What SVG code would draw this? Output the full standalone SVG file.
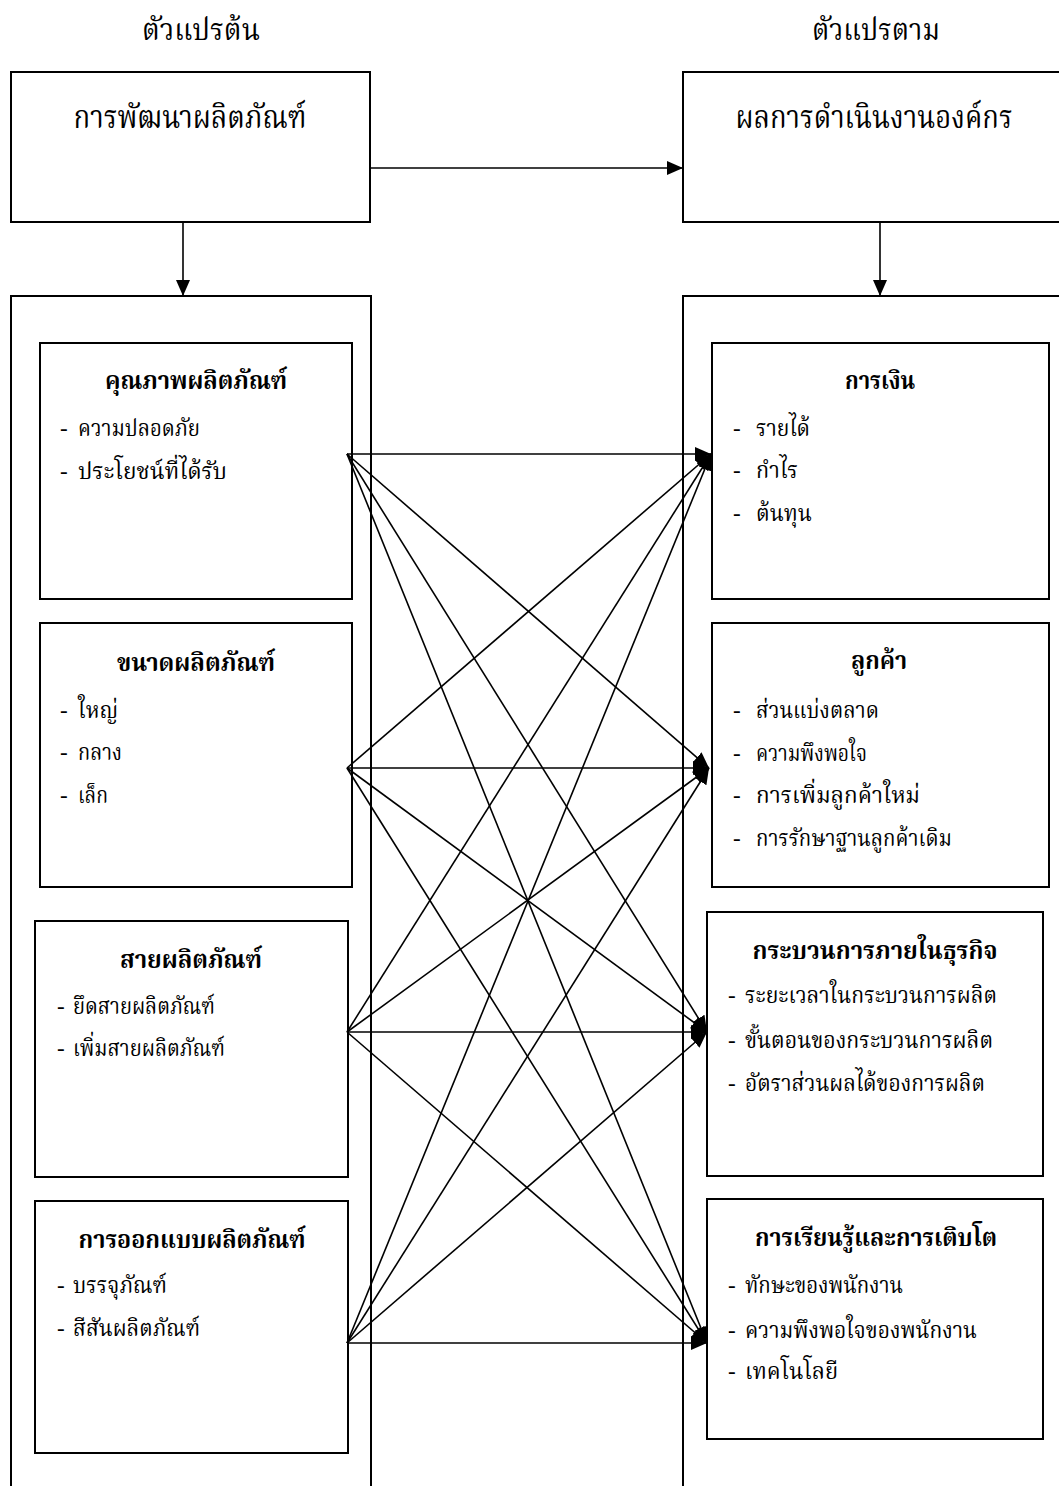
<svg xmlns="http://www.w3.org/2000/svg" width="1059" height="1486" viewBox="0 0 1059 1486">
<style>
text{font-family:"Liberation Serif","Noto Serif Thai","Noto Sans Thai",serif;fill:#000}
.hd{font-size:30px}
.tp{font-size:32px}
.ti{font-size:25px;font-weight:bold}
.it{font-size:23px}
.box{fill:#fff;stroke:#000;stroke-width:2}
.cont{fill:none;stroke:#000;stroke-width:2}
.ln{stroke:#000;stroke-width:1.6;fill:none}
</style>
<defs>
<marker id="ah" markerUnits="userSpaceOnUse" markerWidth="18" markerHeight="14" refX="16" refY="7" orient="auto">
<path d="M0,0 L16,7 L0,14 Z" fill="#000"/>
</marker>
</defs>
<g id="headers">
<text class="hd" x="201" y="40" text-anchor="middle" textLength="118" lengthAdjust="spacingAndGlyphs">ตัวแปรต้น</text>
<text class="hd" x="876" y="40" text-anchor="middle" textLength="128" lengthAdjust="spacingAndGlyphs">ตัวแปรตาม</text>
</g>
<g id="n_iv">
<rect class="box" x="11" y="72" width="359" height="150"/>
<text class="tp" x="190" y="128" text-anchor="middle" textLength="233" lengthAdjust="spacingAndGlyphs">การพัฒนาผลิตภัณฑ์</text>
</g>
<g id="n_dv">
<rect class="box" x="683" y="72" width="400" height="150"/>
<text class="tp" x="874" y="128" text-anchor="middle" textLength="277" lengthAdjust="spacingAndGlyphs">ผลการดำเนินงานองค์กร</text>
</g>
<g id="c_left">
<rect class="cont" x="11" y="296" width="360" height="1220"/>
</g>
<g id="c_right">
<rect class="cont" x="683" y="296" width="400" height="1220"/>
</g>
<g id="n_quality">
<rect class="box" x="40" y="343" width="312" height="256"/>
<text class="ti" x="196" y="389" text-anchor="middle" textLength="182" lengthAdjust="spacingAndGlyphs">คุณภาพผลิตภัณฑ์</text>
<text class="it" x="60" y="436">-</text><text class="it" x="78" y="436" textLength="122" lengthAdjust="spacingAndGlyphs">ความปลอดภัย</text>
<text class="it" x="60" y="479">-</text><text class="it" x="78" y="479" textLength="149" lengthAdjust="spacingAndGlyphs">ประโยชน์ที่ได้รับ</text>
</g>
<g id="n_size">
<rect class="box" x="40" y="623" width="312" height="264"/>
<text class="ti" x="196" y="671" text-anchor="middle" textLength="158" lengthAdjust="spacingAndGlyphs">ขนาดผลิตภัณฑ์</text>
<text class="it" x="60" y="718">-</text><text class="it" x="78" y="718" textLength="40" lengthAdjust="spacingAndGlyphs">ใหญ่</text>
<text class="it" x="60" y="760">-</text><text class="it" x="78" y="760" textLength="44" lengthAdjust="spacingAndGlyphs">กลาง</text>
<text class="it" x="60" y="803">-</text><text class="it" x="78" y="803" textLength="30" lengthAdjust="spacingAndGlyphs">เล็ก</text>
</g>
<g id="n_line">
<rect class="box" x="35" y="921" width="313" height="256"/>
<text class="ti" x="191" y="968" text-anchor="middle" textLength="142" lengthAdjust="spacingAndGlyphs">สายผลิตภัณฑ์</text>
<text class="it" x="57" y="1014">-</text><text class="it" x="73" y="1014" textLength="142" lengthAdjust="spacingAndGlyphs">ยึดสายผลิตภัณฑ์</text>
<text class="it" x="57" y="1056">-</text><text class="it" x="73" y="1056" textLength="152" lengthAdjust="spacingAndGlyphs">เพิ่มสายผลิตภัณฑ์</text>
</g>
<g id="n_design">
<rect class="box" x="35" y="1201" width="313" height="252"/>
<text class="ti" x="192" y="1248" text-anchor="middle" textLength="227" lengthAdjust="spacingAndGlyphs">การออกแบบผลิตภัณฑ์</text>
<text class="it" x="57" y="1293">-</text><text class="it" x="73" y="1293" textLength="94" lengthAdjust="spacingAndGlyphs">บรรจุภัณฑ์</text>
<text class="it" x="57" y="1336">-</text><text class="it" x="73" y="1336" textLength="127" lengthAdjust="spacingAndGlyphs">สีสันผลิตภัณฑ์</text>
</g>
<g id="n_finance">
<rect class="box" x="712" y="343" width="337" height="256"/>
<text class="ti" x="880" y="389" text-anchor="middle" textLength="70" lengthAdjust="spacingAndGlyphs">การเงิน</text>
<text class="it" x="733" y="436">-</text><text class="it" x="756" y="436" textLength="54" lengthAdjust="spacingAndGlyphs">รายได้</text>
<text class="it" x="733" y="478">-</text><text class="it" x="756" y="478" textLength="42" lengthAdjust="spacingAndGlyphs">กำไร</text>
<text class="it" x="733" y="521">-</text><text class="it" x="756" y="521" textLength="56" lengthAdjust="spacingAndGlyphs">ต้นทุน</text>
</g>
<g id="n_customer">
<rect class="box" x="712" y="623" width="337" height="264"/>
<text class="ti" x="879" y="669" text-anchor="middle" textLength="56" lengthAdjust="spacingAndGlyphs">ลูกค้า</text>
<text class="it" x="733" y="718">-</text><text class="it" x="756" y="718" textLength="123" lengthAdjust="spacingAndGlyphs">ส่วนแบ่งตลาด</text>
<text class="it" x="733" y="761">-</text><text class="it" x="756" y="761" textLength="111" lengthAdjust="spacingAndGlyphs">ความพึงพอใจ</text>
<text class="it" x="733" y="803">-</text><text class="it" x="756" y="803" textLength="164" lengthAdjust="spacingAndGlyphs">การเพิ่มลูกค้าใหม่</text>
<text class="it" x="733" y="846">-</text><text class="it" x="756" y="846" textLength="196" lengthAdjust="spacingAndGlyphs">การรักษาฐานลูกค้าเดิม</text>
</g>
<g id="n_process">
<rect class="box" x="707" y="912" width="336" height="264"/>
<text class="ti" x="875" y="959" text-anchor="middle" textLength="245" lengthAdjust="spacingAndGlyphs">กระบวนการภายในธุรกิจ</text>
<text class="it" x="728" y="1003">-</text><text class="it" x="745" y="1003" textLength="252" lengthAdjust="spacingAndGlyphs">ระยะเวลาในกระบวนการผลิต</text>
<text class="it" x="728" y="1048">-</text><text class="it" x="745" y="1048" textLength="248" lengthAdjust="spacingAndGlyphs">ขั้นตอนของกระบวนการผลิต</text>
<text class="it" x="728" y="1091">-</text><text class="it" x="745" y="1091" textLength="240" lengthAdjust="spacingAndGlyphs">อัตราส่วนผลได้ของการผลิต</text>
</g>
<g id="n_learning">
<rect class="box" x="707" y="1199" width="336" height="240"/>
<text class="ti" x="876" y="1246" text-anchor="middle" textLength="242" lengthAdjust="spacingAndGlyphs">การเรียนรู้และการเติบโต</text>
<text class="it" x="728" y="1293">-</text><text class="it" x="745" y="1293" textLength="158" lengthAdjust="spacingAndGlyphs">ทักษะของพนักงาน</text>
<text class="it" x="728" y="1338">-</text><text class="it" x="745" y="1338" textLength="232" lengthAdjust="spacingAndGlyphs">ความพึงพอใจของพนักงาน</text>
<text class="it" x="728" y="1379">-</text><text class="it" x="745" y="1379" textLength="93" lengthAdjust="spacingAndGlyphs">เทคโนโลยี</text>
</g>
<g id="connectors" class="ln">
<line x1="370" y1="168" x2="683" y2="168" marker-end="url(#ah)"/>
<line x1="183" y1="222" x2="183" y2="296" marker-end="url(#ah)"/>
<line x1="880" y1="222" x2="880" y2="296" marker-end="url(#ah)"/>
<line x1="347" y1="454" x2="711" y2="454" marker-end="url(#ah)"/>
<line x1="347" y1="454" x2="709" y2="768" marker-end="url(#ah)"/>
<line x1="347" y1="454" x2="707" y2="1032" marker-end="url(#ah)"/>
<line x1="347" y1="454" x2="707" y2="1343" marker-end="url(#ah)"/>
<line x1="347" y1="768" x2="711" y2="454" marker-end="url(#ah)"/>
<line x1="347" y1="768" x2="709" y2="768" marker-end="url(#ah)"/>
<line x1="347" y1="768" x2="707" y2="1032" marker-end="url(#ah)"/>
<line x1="347" y1="768" x2="707" y2="1343" marker-end="url(#ah)"/>
<line x1="347" y1="1032" x2="711" y2="454" marker-end="url(#ah)"/>
<line x1="347" y1="1032" x2="709" y2="768" marker-end="url(#ah)"/>
<line x1="347" y1="1032" x2="707" y2="1032" marker-end="url(#ah)"/>
<line x1="347" y1="1032" x2="707" y2="1343" marker-end="url(#ah)"/>
<line x1="347" y1="1343" x2="711" y2="454" marker-end="url(#ah)"/>
<line x1="347" y1="1343" x2="709" y2="768" marker-end="url(#ah)"/>
<line x1="347" y1="1343" x2="707" y2="1032" marker-end="url(#ah)"/>
<line x1="347" y1="1343" x2="707" y2="1343" marker-end="url(#ah)"/>
</g>
</svg>
